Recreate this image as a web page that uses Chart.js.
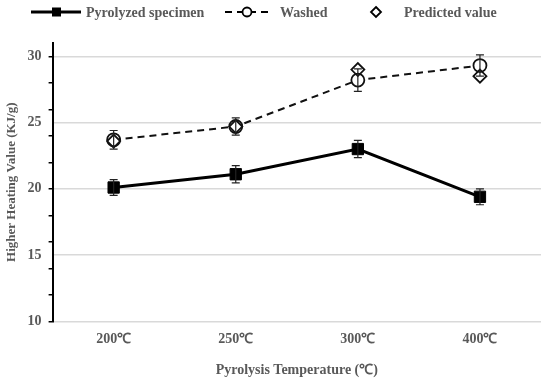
<!DOCTYPE html>
<html><head><meta charset="utf-8">
<script src="https://cdn.jsdelivr.net/npm/chart.js@4"></script>
<style>html,body{margin:0;padding:0;background:#fff}</style>
</head><body>
<canvas id="c" width="550" height="385"></canvas>
<script>
const categories = ['200℃', '250℃', '300℃', '400℃'];
const pyrolyzed = [20.1, 21.1, 23.0, 19.4];
const pyrolyzedErr = [0.6, 0.65, 0.65, 0.6];
const washed = [23.7, 24.7, 28.2, 29.3];
const washedErr = [0.7, 0.65, 0.85, 0.8];
const predicted = [23.6, 24.7, 29.0, 28.5];
const yTickLabels = [10, 15, 20, 25, 30];

const FONT = "'Liberation Serif','Times New Roman',serif";
const GREY = '#595959';

const errorBarPlugin = {
  id: 'errorBars',
  afterDatasetsDraw(chart) {
    const ctx = chart.ctx, ys = chart.scales.y;
    const sets = [[1, washed, washedErr], [2, pyrolyzed, pyrolyzedErr]];
    ctx.save();
    ctx.strokeStyle = '#222';
    ctx.lineWidth = 1.2;
    sets.forEach(([di, vals, errs]) => {
      const meta = chart.getDatasetMeta(di);
      meta.data.forEach((pt, i) => {
        const x = pt.x;
        const yt = ys.getPixelForValue(vals[i] + errs[i]);
        const yb = ys.getPixelForValue(vals[i] - errs[i]);
        ctx.beginPath();
        ctx.moveTo(x, yt); ctx.lineTo(x, yb);
        ctx.moveTo(x - 4, yt); ctx.lineTo(x + 4, yt);
        ctx.moveTo(x - 4, yb); ctx.lineTo(x + 4, yb);
        ctx.stroke();
      });
    });
    ctx.restore();
  }
};

const legendPlugin = {
  id: 'customLegend',
  afterDraw(chart) {
    const ctx = chart.ctx;
    const y = 12;
    ctx.save();
    ctx.font = 'bold 14px ' + FONT;
    ctx.fillStyle = GREY;
    ctx.textBaseline = 'middle';
    // Pyrolyzed
    ctx.strokeStyle = '#000'; ctx.lineWidth = 3;
    ctx.beginPath(); ctx.moveTo(31, y); ctx.lineTo(81, y); ctx.stroke();
    ctx.fillStyle = '#000'; ctx.fillRect(52, y - 4.5, 9, 9);
    ctx.fillStyle = GREY; ctx.fillText('Pyrolyzed specimen', 86, y + 1);
    // Washed
    ctx.lineWidth = 2; ctx.setLineDash([7, 5]);
    ctx.beginPath(); ctx.moveTo(225, y); ctx.lineTo(270, y); ctx.stroke();
    ctx.setLineDash([]);
    ctx.beginPath(); ctx.arc(247, y, 4.5, 0, Math.PI * 2);
    ctx.fillStyle = '#fff'; ctx.fill(); ctx.lineWidth = 1.8; ctx.stroke();
    ctx.fillStyle = GREY; ctx.fillText('Washed', 280, y + 1);
    // Predicted
    ctx.beginPath();
    ctx.moveTo(376, y - 5); ctx.lineTo(381, y); ctx.lineTo(376, y + 5); ctx.lineTo(371, y); ctx.closePath();
    ctx.lineWidth = 1.8; ctx.stroke();
    ctx.fillText('Predicted value', 404, y + 1);
    ctx.restore();
  }
};

new Chart(document.getElementById('c'), {
  type: 'line',
  data: {
    labels: categories,
    datasets: [
      {
        label: 'Predicted value', data: predicted, order: 0,
        showLine: false, pointStyle: 'rectRot', pointRadius: 6.5,
        pointBackgroundColor: 'rgba(0,0,0,0)', pointBorderColor: '#111', pointBorderWidth: 1.8
      },
      {
        label: 'Washed', data: washed, order: 1,
        borderColor: '#111', borderWidth: 2, borderDash: [7, 5],
        pointStyle: 'circle', pointRadius: 6.5,
        pointBackgroundColor: '#fff', pointBorderColor: '#111', pointBorderWidth: 1.8
      },
      {
        label: 'Pyrolyzed specimen', data: pyrolyzed, order: 2,
        borderColor: '#000', borderWidth: 3,
        pointStyle: 'rect', pointRadius: 8,
        pointBackgroundColor: '#000', pointBorderColor: '#000', pointBorderWidth: 1
      }
    ]
  },
  options: {
    responsive: false,
    animation: false,
    layout: { padding: { top: 43, right: 7, left: 0, bottom: 2 } },
    plugins: { legend: { display: false }, tooltip: { enabled: false } },
    scales: {
      x: {
        offset: true,
        grid: { display: false },
        border: { display: false },
        ticks: { color: GREY, font: { family: FONT, size: 14, weight: 'bold' }, padding: 2 },
        title: { display: true, text: 'Pyrolysis Temperature (℃)', color: GREY,
                 font: { family: FONT, size: 14, weight: 'bold' }, padding: { top: 12 } }
      },
      y: {
        min: 10, max: 31,
        border: { display: true, color: '#000', width: 2 },
        grid: {
          color: (c) => (c.tick && yTickLabels.includes(c.tick.value)) ? '#d9d9d9' : 'rgba(0,0,0,0)',
          lineWidth: 1.5,
          tickColor: (c) => (c.tick && c.tick.value % 2 === 0) ? '#000' : 'rgba(0,0,0,0)',
          tickLength: 4,
          tickWidth: 1.5
        },
        ticks: {
          stepSize: 1, autoSkip: false, padding: 7,
          color: GREY, font: { family: FONT, size: 14, weight: 'bold' },
          callback: (v) => yTickLabels.includes(v) ? String(v) : ''
        },
        title: { display: true, text: 'Higher Heating Value (KJ/g)', color: GREY,
                 font: { family: FONT, size: 13, weight: 'bold' }, padding: { bottom: 1 } }
      }
    }
  },
  plugins: [errorBarPlugin, legendPlugin]
});
</script>
</body></html>
